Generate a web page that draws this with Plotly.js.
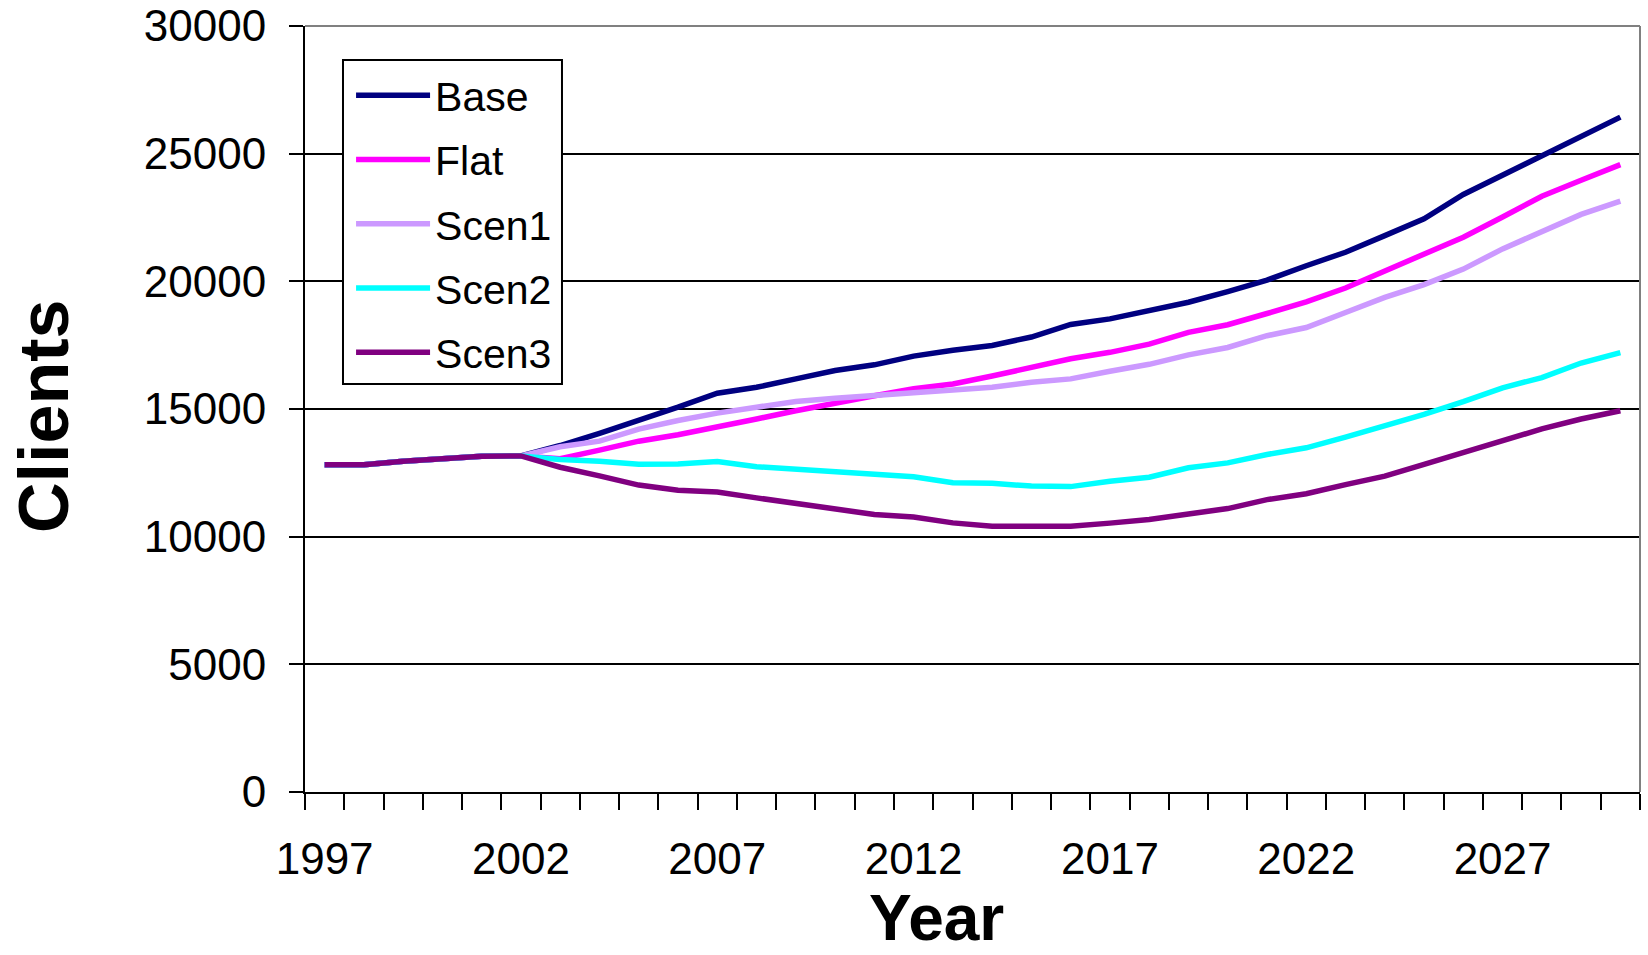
<!DOCTYPE html>
<html>
<head>
<meta charset="utf-8">
<script src="https://cdn.plot.ly/plotly-3.0.1.min.js"></script>
<style>
  html, body { margin: 0; padding: 0; background: #ffffff; }
  #chart { width: 1648px; height: 955px; }
</style>
</head>
<body>
<div id="chart"></div>
<script>
// Categories (years)
const years = [1997, 1998, 1999, 2000, 2001, 2002, 2003, 2004, 2005, 2006,
               2007, 2008, 2009, 2010, 2011, 2012, 2013, 2014, 2015, 2016,
               2017, 2018, 2019, 2020, 2021, 2022, 2023, 2024, 2025, 2026,
               2027, 2028, 2029, 2030];

// Series values (clients)
const base  = [12820, 12820, 12950, 13060, 13150, 13160, 13570, 14050, 14540, 15070,
               15620, 15850, 16180, 16510, 16730, 17070, 17300, 17490, 17820, 18310,
               18530, 18850, 19180, 19600, 20050, 20610, 21140, 21790, 22450, 23400,
               24150, 24930, 25680, 26430];
const flat  = [12820, 12820, 12950, 13060, 13150, 13160, 13050, 13390, 13740, 13990,
               14280, 14610, 14930, 15240, 15520, 15790, 15980, 16290, 16640, 16970,
               17220, 17540, 18000, 18300, 18740, 19200, 19740, 20390, 21050, 21730,
               22520, 23330, 23960, 24570];
const scen1 = [12820, 12820, 12950, 13060, 13150, 13160, 13520, 13740, 14210, 14550,
               14840, 15070, 15290, 15420, 15520, 15630, 15760, 15850, 16050, 16180,
               16480, 16750, 17120, 17410, 17870, 18190, 18780, 19370, 19870, 20480,
               21270, 21950, 22620, 23140];
const scen2 = [12820, 12820, 12950, 13060, 13150, 13160, 13020, 12950, 12840, 12850,
               12940, 12740, 12640, 12530, 12440, 12350, 12110, 12090, 11980, 11960,
               12170, 12330, 12700, 12890, 13220, 13480, 13900, 14330, 14790, 15290,
               15830, 16230, 16800, 17210];
const scen3 = [12820, 12820, 12950, 13060, 13150, 13160, 12720, 12380, 12020, 11820,
               11750, 11520, 11300, 11060, 10870, 10770, 10540, 10410, 10410, 10410,
               10530, 10670, 10890, 11100, 11450, 11680, 12040, 12370, 12830, 13290,
               13740, 14220, 14610, 14930];

// Series names, axis titles and tick labels
const seriesNames = ["Base", "Flat", "Scen1", "Scen2", "Scen3"];
const xTitle = "Year";
const yTitle = "Clients";
const xTickYears  = [1997, 2002, 2007, 2012, 2017, 2022, 2027];
const xTickText   = ["1997", "2002", "2007", "2012", "2017", "2022", "2027"];
const yTickVals   = [0, 5000, 10000, 15000, 20000, 25000, 30000];
const yTickText   = ["0", "5000", "10000", "15000", "20000", "25000", "30000"];

const colors = ["#000080", "#FF00FF", "#CC99FF", "#00FFFF", "#800080"];
const seriesData = [base, flat, scen1, scen2, scen3];

const FONT = "Liberation Sans, Arial, Helvetica, sans-serif";

const traces = seriesData.map((ys, i) => ({
  type: "scatter",
  mode: "lines",
  name: seriesNames[i],
  legendgroup: seriesNames[i],
  x: years,
  y: ys,
  line: { color: colors[i], width: 5.5 },
  hoverinfo: "x+y+name"
}));

const layout = {
  width: 1648,
  height: 955,
  margin: { l: 305, r: 8, t: 26, b: 163 },
  paper_bgcolor: "#ffffff",
  plot_bgcolor: "#ffffff",
  font: { family: FONT, color: "#000000" },
  showlegend: true,
  legend: {
    x: 0.0345, y: 0.953, xanchor: "left", yanchor: "top",
    bgcolor: "rgba(255,255,255,0)", borderwidth: 0,
    font: { family: FONT, size: 41, color: "#000000" },
    traceorder: "grouped",
    tracegroupgap: 8,
    itemwidth: 74
  },
  xaxis: {
    type: "linear",
    range: [1996.5, 2030.5],
    tickmode: "array",
    tickvals: xTickYears,
    ticktext: xTickText,
    ticks: "",
    ticklabelstandoff: 27,
    tickfont: { family: FONT, size: 44, color: "#000000" },
    showgrid: false,
    zeroline: false,
    showline: true, linecolor: "#000000", linewidth: 2,
    minor: {
      tickmode: "linear", tick0: 1996.5, dtick: 1,
      ticks: "outside", ticklen: 16, tickwidth: 2, tickcolor: "#000000",
      showgrid: false
    },
    fixedrange: true
  },
  yaxis: {
    range: [0, 30000],
    tickmode: "array",
    tickvals: yTickVals,
    ticktext: yTickText,
    ticks: "outside", ticklen: 14, tickwidth: 2, tickcolor: "#000000",
    ticklabelstandoff: 14,
    tickfont: { family: FONT, size: 44, color: "#000000" },
    showgrid: true, gridcolor: "#000000", gridwidth: 2,
    zeroline: false,
    showline: true, linecolor: "#000000", linewidth: 2,
    fixedrange: true
  },
  annotations: [
    { text: "<b>" + xTitle + "</b>", xref: "paper", yref: "paper",
      x: 0.4734, y: -0.1645, xanchor: "center", yanchor: "middle",
      showarrow: false, font: { family: FONT, size: 64, color: "#000000" } },
    { text: "<b>" + yTitle + "</b>", xref: "paper", yref: "paper",
      x: -0.1955, y: 0.4896, xanchor: "center", yanchor: "middle", textangle: -90,
      showarrow: false, font: { family: FONT, size: 70, color: "#000000" } }
  ],
  shapes: [
    { type: "line", xref: "paper", yref: "paper", x0: 0, x1: 1, y0: 1, y1: 1,
      line: { color: "#808080", width: 2 }, layer: "above" },
    { type: "line", xref: "paper", yref: "paper", x0: 1, x1: 1, y0: 0, y1: 1,
      line: { color: "#808080", width: 2 }, layer: "above" },
    { type: "rect", xref: "paper", yref: "paper", x0: 0.02846, x1: 0.1925, y0: 0.5326, y1: 0.9556,
      fillcolor: "#ffffff", line: { color: "#000000", width: 2 }, layer: "above" }
  ]
};

Plotly.newPlot("chart", traces, layout, { displayModeBar: false, staticPlot: true });
</script>
</body>
</html>
